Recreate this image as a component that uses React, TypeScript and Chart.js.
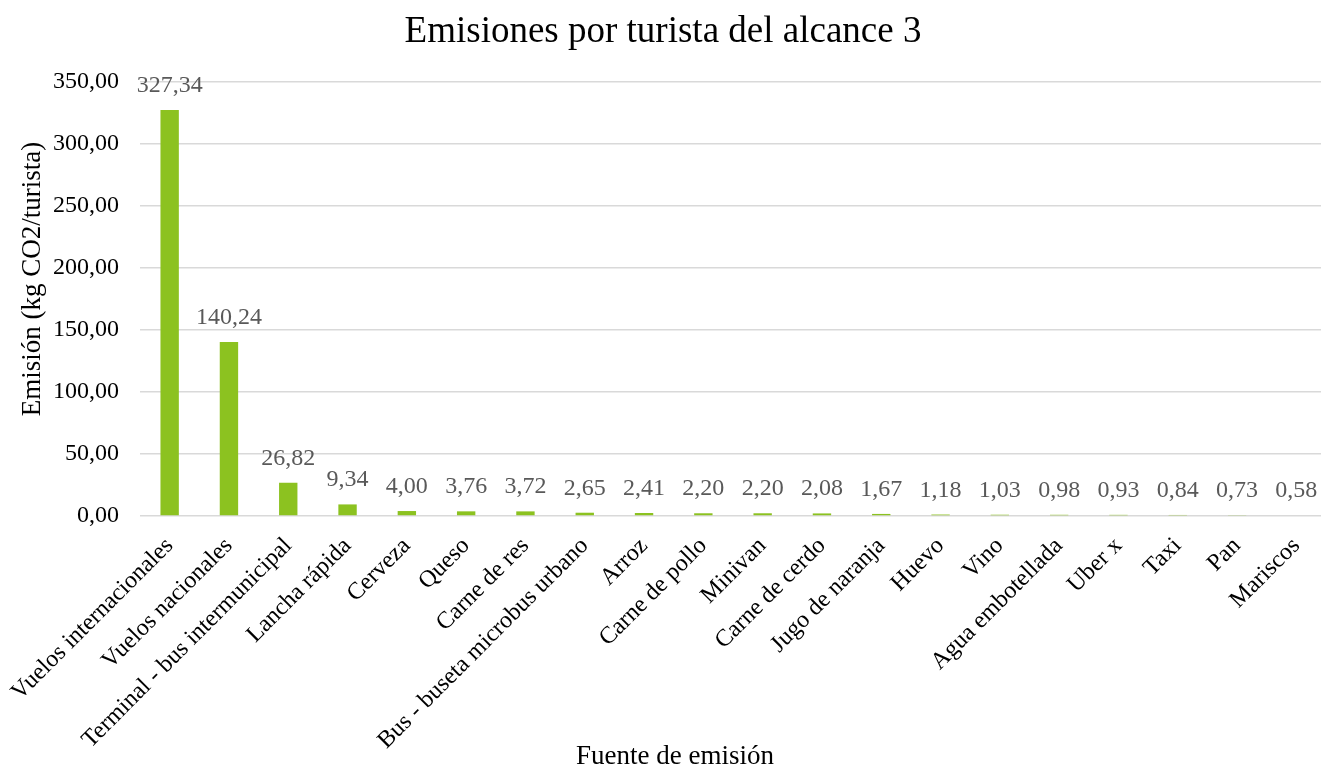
import React, { useEffect, useRef } from "react";
import { Chart, registerables } from "chart.js";

Chart.register(...registerables);

const categories = [
  "Vuelos internacionales",
  "Vuelos nacionales",
  "Terminal - bus intermunicipal",
  "Lancha rápida",
  "Cerveza",
  "Queso",
  "Carne de res",
  "Bus - buseta microbus urbano",
  "Arroz",
  "Carne de pollo",
  "Minivan",
  "Carne de cerdo",
  "Jugo de naranja",
  "Huevo",
  "Vino",
  "Agua embotellada",
  "Uber x",
  "Taxi",
  "Pan",
  "Mariscos",
];

const emissions = [
  327.34, 140.24, 26.82, 9.34, 4.0, 3.76, 3.72, 2.65, 2.41, 2.2, 2.2, 2.08,
  1.67, 1.18, 1.03, 0.98, 0.93, 0.84, 0.73, 0.58,
];

const yTicks = [0, 50, 100, 150, 200, 250, 300, 350];

const chartTitle = "Emisiones por turista del alcance 3";
const xTitle = "Fuente de emisión";
const yTitle = "Emisión (kg CO2/turista)";

const FONT = "'Liberation Serif', 'Times New Roman', serif";
const BAR_COLOR = "#8CC220";

const fmt = (v: number) => v.toFixed(2).replace(".", ",");

// Draws the numeric value above each bar
const valueLabels = {
  id: "valueLabels",
  afterDatasetsDraw(chart: any) {
    const { ctx } = chart;
    const meta = chart.getDatasetMeta(0);
    ctx.save();
    ctx.font = `24px ${FONT}`;
    ctx.fillStyle = "#595959";
    ctx.textAlign = "center";
    ctx.textBaseline = "alphabetic";
    meta.data.forEach((bar: any, i: number) => {
      ctx.fillText(fmt(emissions[i]), bar.x, bar.y - 18);
    });
    ctx.restore();
  },
};

// Axis titles, placed relative to the whole canvas
const axisTitles = {
  id: "axisTitles",
  afterDraw(chart: any) {
    const { ctx } = chart;
    ctx.save();
    ctx.font = `27px ${FONT}`;
    ctx.fillStyle = "#000000";
    ctx.textAlign = "center";
    ctx.textBaseline = "alphabetic";
    ctx.fillText(xTitle, 675, 764);
    ctx.translate(33, 279);
    ctx.rotate(-Math.PI / 2);
    ctx.textBaseline = "middle";
    ctx.fillText(yTitle, 0, 0);
    ctx.restore();
  },
};

export default function App() {
  const canvasRef = useRef<HTMLCanvasElement | null>(null);

  useEffect(() => {
    document.body.style.margin = "0";
    document.body.style.overflow = "hidden";
    const canvas = canvasRef.current;
    if (!canvas) return;
    const chart = new Chart(canvas, {
      type: "bar",
      data: {
        labels: categories,
        datasets: [
          {
            data: emissions,
            backgroundColor: BAR_COLOR,
            borderWidth: 0,
            barPercentage: 0.31,
            categoryPercentage: 1,
          },
        ],
      },
      options: {
        animation: false,
        responsive: false,
        maintainAspectRatio: false,
        layout: { padding: { left: 0, right: 0, top: 0, bottom: 0 } },
        plugins: {
          legend: { display: false },
          tooltip: { enabled: false },
          title: {
            display: true,
            text: chartTitle,
            color: "#000000",
            font: { family: FONT, size: 37, weight: "normal", lineHeight: 1.2 },
            padding: { top: 10, bottom: 27.6 },
          },
        },
        scales: {
          x: {
            grid: { display: false, drawTicks: false },
            border: { display: false },
            ticks: {
              color: "#000000",
              font: { family: FONT, size: 24 },
              minRotation: 45,
              maxRotation: 45,
              autoSkip: false,
              padding: 16,
            },
            afterFit: (scale: any) => {
              scale.height = 253;
              // rotated labels may hang past the plot edges; keep the plot fixed
              scale.paddingLeft = 0;
              scale.paddingRight = 0;
            },
          },
          y: {
            min: 0,
            max: 350,
            afterBuildTicks: (scale: any) => {
              scale.ticks = yTicks.map((v) => ({ value: v }));
            },
            grid: {
              color: "#D9D9D9",
              lineWidth: 1.5,
              drawTicks: false,
            },
            border: { display: false },
            ticks: {
              color: "#000000",
              font: { family: FONT, size: 24 },
              padding: 21,
              callback: (v: any) => fmt(Number(v)),
            },
            afterFit: (scale: any) => {
              scale.width = 140;
            },
          },
        },
      },
      plugins: [valueLabels, axisTitles],
    });
    return () => chart.destroy();
  }, []);

  return (
    <div style={{ position: "absolute", left: 0, top: 0, width: 1326, height: 769 }}>
      <canvas ref={canvasRef} width={1326} height={769} style={{ display: "block" }} />
    </div>
  );
}
